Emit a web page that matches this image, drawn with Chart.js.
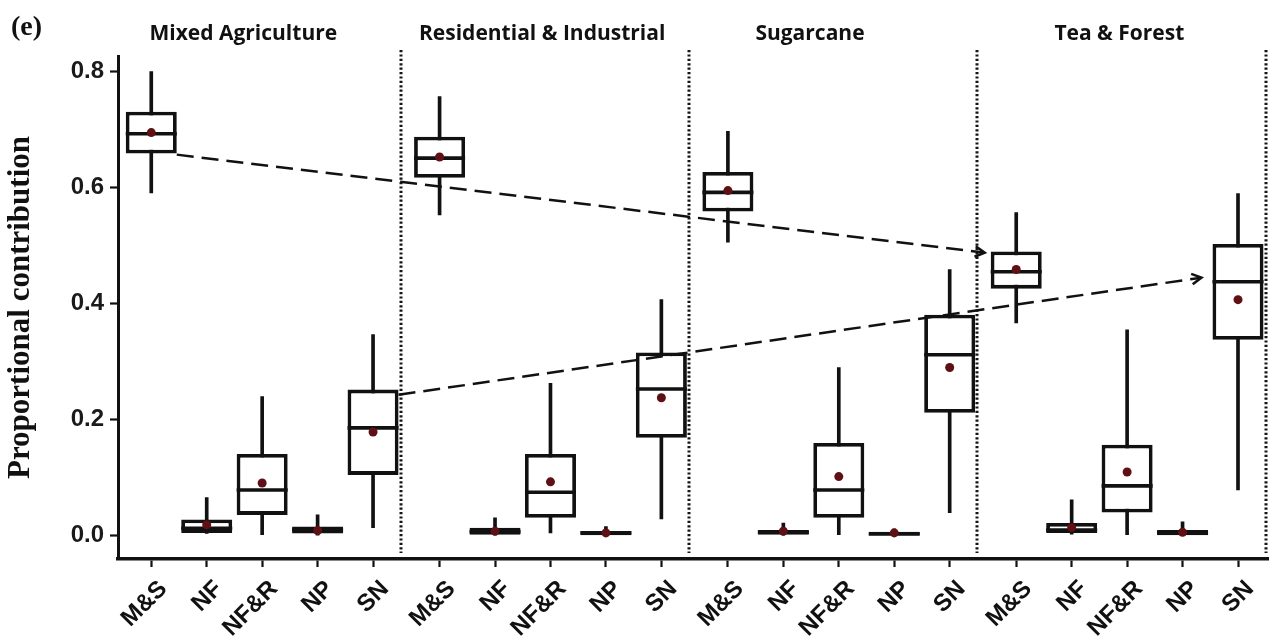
<!DOCTYPE html>
<html>
<head>
<meta charset="utf-8">
<script src="https://cdn.jsdelivr.net/npm/chart.js@4.4.1/dist/chart.umd.min.js"></script>
<style>
  html, body { margin: 0; padding: 0; background: #fff; }
  #wrap { width: 1273px; height: 643px; }
</style>
</head>
<body>
<div id="wrap"><canvas id="c" width="1273" height="643"></canvas></div>
<script>
// ---- data ----------------------------------------------------------------
const panelLabel = '(e)';
const groups  = ['Mixed Agriculture', 'Residential & Industrial', 'Sugarcane', 'Tea & Forest'];
const sources = ['M&S', 'NF', 'NF&R', 'NP', 'SN'];
const yTicks  = [0.0, 0.2, 0.4, 0.6, 0.8];
const yTitle  = 'Proportional contribution';

// one row per land-use group, one column per source (M&S, NF, NF&R, NP, SN)
const whiskerLow = [
  [0.591, 0.004, 0.002, 0.001, 0.014],
  [0.553, 0.000, 0.005, 0.000, 0.029],
  [0.506, 0.001, 0.002, 0.000, 0.040],
  [0.367, 0.003, 0.002, 0.000, 0.079]
];
const q1 = [
  [0.659, 0.005, 0.036, 0.004, 0.105],
  [0.617, 0.002, 0.031, 0.001, 0.169],
  [0.559, 0.002, 0.031, 0.000, 0.212],
  [0.426, 0.005, 0.040, 0.001, 0.338]
];
const median = [
  [0.693, 0.013, 0.079, 0.010, 0.186],
  [0.651, 0.007, 0.075, 0.005, 0.253],
  [0.592, 0.006, 0.079, 0.003, 0.312],
  [0.455, 0.010, 0.086, 0.005, 0.438]
];
const q3 = [
  [0.731, 0.028, 0.141, 0.016, 0.252],
  [0.688, 0.014, 0.141, 0.008, 0.316],
  [0.627, 0.010, 0.160, 0.007, 0.381],
  [0.490, 0.022, 0.157, 0.010, 0.503]
];
const whiskerHigh = [
  [0.800, 0.066, 0.240, 0.036, 0.347],
  [0.757, 0.031, 0.263, 0.016, 0.407],
  [0.697, 0.022, 0.290, 0.012, 0.459],
  [0.557, 0.062, 0.355, 0.024, 0.590]
];
const mean = [
  [0.695, 0.019, 0.091, 0.009, 0.179],
  [0.653, 0.008, 0.093, 0.005, 0.238],
  [0.595, 0.008, 0.102, 0.005, 0.290],
  [0.459, 0.014, 0.110, 0.006, 0.407]
];

// dashed trend arrows: [group, source] and value at each end
const arrowFrom = [[0, 0, 0.657], [0, 4, 0.243]];
const arrowTo   = [[3, 0, 0.488], [3, 4, 0.445]];

// ---- layout of the faceted x axis ------------------------------------------
const PANEL = 5.2;   // width of one facet, in category units
const LEAD  = 0.6;   // space before the first box of a facet
const xOf = (g, s) => g * PANEL + LEAD + s;

const xs = [], tickText = [], flat = a => a.flat();
groups.forEach((_, g) => sources.forEach((name, s) => { xs.push(xOf(g, s)); tickText.push(name); }));
const pts = (lo, hi) => xs.map((x, k) => ({ x, y: [flat(lo)[k], flat(hi)[k]] }));

const INK = '#111';

// medians, facet separators, trend arrows, facet titles
const decor = {
  id: 'decor',
  afterDatasetDraw(chart, args) {
    if (args.index !== 1) return;
    const { ctx, scales: { y } } = chart;
    const med = flat(median);
    ctx.save();
    ctx.strokeStyle = INK;
    ctx.lineWidth = 3.6;
    args.meta.data.forEach((el, k) => {
      const { x, width } = el.getProps(['x', 'width'], true);
      const py = y.getPixelForValue(med[k]);
      ctx.beginPath();
      ctx.moveTo(x - width / 2, py);
      ctx.lineTo(x + width / 2, py);
      ctx.stroke();
    });
    ctx.restore();
  },
  afterDatasetsDraw(chart) {
    const { ctx, chartArea, scales: { x, y } } = chart;
    ctx.save();
    // dotted facet separators
    ctx.strokeStyle = '#151515';
    ctx.lineWidth = 3;
    ctx.setLineDash([2.2, 2.2]);
    groups.forEach((_, g) => {
      const px = Math.round(x.getPixelForValue((g + 1) * PANEL - 0.1));
      ctx.beginPath();
      ctx.moveTo(px, chartArea.top - 6);
      ctx.lineTo(px, chartArea.bottom - 6);
      ctx.stroke();
    });
    // dashed arrows between facets
    const boxes = chart.getDatasetMeta(1).data;
    const gaps = [6, 11];
    arrowFrom.forEach((from, a) => {
      const to = arrowTo[a];
      const b0 = boxes[from[0] * sources.length + from[1]].getProps(['x', 'width'], true);
      const b1 = boxes[to[0] * sources.length + to[1]].getProps(['x', 'width'], true);
      const x0 = b0.x + b0.width / 2, y0 = y.getPixelForValue(from[2]);
      const x1 = b1.x - b1.width / 2 - gaps[a], y1 = y.getPixelForValue(to[2]);
      ctx.strokeStyle = INK;
      ctx.lineWidth = 2.5;
      ctx.setLineDash([17, 8]);
      ctx.beginPath();
      ctx.moveTo(x0, y0);
      ctx.lineTo(x1 - 2, y1 - (y1 - y0) * 2 / (x1 - x0));
      ctx.stroke();
      ctx.setLineDash([]);
      const ang = Math.atan2(y1 - y0, x1 - x0), L = 11, spread = 0.5;
      ctx.beginPath();
      ctx.moveTo(x1 - L * Math.cos(ang - spread), y1 - L * Math.sin(ang - spread));
      ctx.lineTo(x1, y1);
      ctx.lineTo(x1 - L * Math.cos(ang + spread), y1 - L * Math.sin(ang + spread));
      ctx.stroke();
    });
    ctx.restore();
  },
  afterDraw(chart) {
    const { ctx, scales: { x } } = chart;
    const shift = [2.26, 2.45, 2.08, 2.46];
    ctx.save();
    ctx.fillStyle = INK;
    ctx.textBaseline = 'alphabetic';
    ctx.font = 'bold 28px "Liberation Serif"';
    ctx.textAlign = 'left';
    ctx.fillText(panelLabel, 11, 35);
    ctx.font = 'bold 21px "Open Sans"';
    ctx.textAlign = 'center';
    groups.forEach((name, g) => ctx.fillText(name, x.getPixelForValue(g * PANEL + shift[g]), 40));
    ctx.restore();
  }
};

new Chart(document.getElementById('c'), {
  type: 'bar',
  data: {
    datasets: [
      { // mean markers
        type: 'scatter',
        data: xs.map((x, k) => ({ x, y: flat(mean)[k] })),
        pointRadius: 4.5,
        pointBackgroundColor: '#5e1014',
        pointBorderWidth: 0,
        order: 0
      },
      { // interquartile boxes
        data: pts(q1, q3),
        backgroundColor: '#fff',
        borderColor: INK,
        borderWidth: 3.8,
        borderSkipped: false,
        barPercentage: 0.92,
        categoryPercentage: 1,
        grouped: false,
        order: 1
      },
      { // whiskers
        data: pts(whiskerLow, whiskerHigh),
        backgroundColor: INK,
        borderWidth: 0,
        barThickness: 3,
        grouped: false,
        order: 2
      }
    ]
  },
  options: {
    responsive: false,
    animation: false,
    devicePixelRatio: 1,
    layout: { padding: { top: 56, right: 0, bottom: 0, left: 0 } },
    plugins: { legend: { display: false }, tooltip: { enabled: false } },
    scales: {
      x: {
        type: 'linear',
        min: 0,
        max: 20.75,
        offset: false,
        afterBuildTicks: s => { s.ticks = xs.map(v => ({ value: v })); },
        afterFit: s => { s.height = 84; },
        border: { display: true, color: INK, width: 3.5 },
        grid: { offset: false, drawOnChartArea: false, drawTicks: true, tickLength: 8, tickWidth: 2.2, tickColor: INK },
        ticks: {
          autoSkip: false, maxRotation: 45, minRotation: 45, padding: 8, labelOffset: 12,
          color: INK,
          font: { family: 'Liberation Sans', size: 24, weight: 'bold' },
          callback: (v, i) => tickText[i]
        }
      },
      y: {
        min: -0.04,
        max: 0.827,
        afterBuildTicks: s => { s.ticks = yTicks.map(v => ({ value: v })); },
        afterFit: s => { s.width = 118; },
        border: { display: true, color: INK, width: 3 },
        grid: { drawOnChartArea: false, drawTicks: true, tickLength: 8, tickWidth: 2.2, tickColor: INK },
        ticks: {
          padding: 6,
          color: '#1a1a1a',
          font: { family: 'Liberation Sans', size: 24, weight: 'bold' },
          callback: v => v.toFixed(1)
        },
        title: {
          display: true,
          text: yTitle,
          color: INK,
          font: { family: 'Liberation Serif', size: 31, weight: 'bold' },
          padding: { top: 2, bottom: 0 }
        }
      }
    }
  },
  plugins: [decor]
});
</script>
</body>
</html>
